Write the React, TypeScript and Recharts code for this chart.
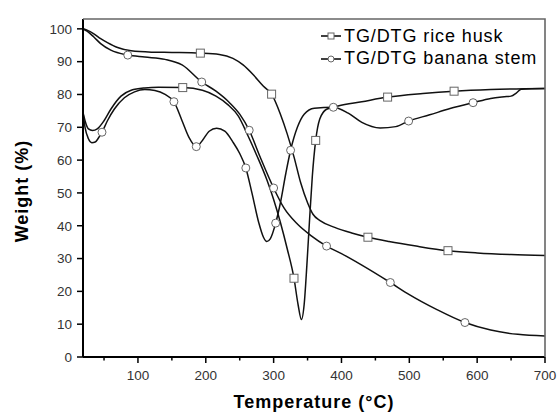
import React from 'react';
import {
  LineChart, Line, XAxis, YAxis, Label
} from 'recharts';

// TG rice husk
const rhTgX = [19, 25, 35, 45, 55, 70, 90, 120, 150, 192, 220, 240, 255, 270, 285, 297, 310, 320, 330, 340, 350, 358, 369, 390, 415, 439, 470, 510, 557, 600, 650, 700];
const rhTgY = [100, 99.6, 98.5, 97, 95.8, 94.3, 93.3, 92.9, 92.8, 92.6, 92.2, 91, 89, 86, 82.5, 80.1, 74, 68, 61, 53, 47, 43.5, 41.5, 39.5, 37.8, 36.5, 35.2, 33.8, 32.4, 31.7, 31.2, 30.9];
const rhTgMarks = [192, 297, 439, 557];

// DTG rice husk
const rhDtgX = [19, 22, 27, 33, 40, 50, 60, 75, 90, 110, 130, 166, 195, 215, 232, 248, 262, 275, 290, 300, 310, 320, 330, 336, 341, 345, 349, 353, 357, 362, 368, 378, 395, 430, 468, 520, 566, 620, 700];
const rhDtgY = [74.5, 72, 69.5, 69, 69.5, 72, 75.5, 79.5, 81.3, 82, 82.2, 82.1, 81.3, 79.5, 77, 73.4, 67.5, 61.5, 54, 48, 41, 33, 24, 16, 11.4, 16, 28, 42, 55, 66, 72.5, 75.5, 76.5, 77.8, 79.2, 80.3, 81, 81.5, 81.8];
const rhDtgMarks = [166, 330, 362, 468, 566];

// TG banana stem
const bTgX = [19, 25, 35, 45, 60, 85, 110, 140, 165, 194, 215, 235, 250, 264, 280, 300, 315, 335, 355, 378, 400, 430, 472, 500, 540, 582, 620, 660, 700];
const bTgY = [100, 99.3, 97.5, 95.5, 93.5, 92, 91.4, 90.7, 89, 83.8, 81, 77.5, 74, 69.1, 61, 51.5, 45.5, 40.5, 37, 33.8, 31.5, 28, 22.7, 19, 14.5, 10.5, 8.2, 6.9, 6.4];
const bTgMarks = [85, 194, 264, 300, 378, 472, 582];

// DTG banana stem
const bDtgX = [19, 22, 27, 32, 37, 42, 47, 55, 65, 80, 95, 110, 125, 140, 153, 165, 175, 186, 195, 205, 216, 228, 240, 250, 259, 268, 278, 285, 290, 295, 303, 310, 318, 325, 335, 345, 360, 388, 410, 430, 457, 480, 499, 530, 560, 594, 620, 640, 650, 658, 665, 700];
const bDtgY = [74.5, 70, 66.5, 65.3, 65.5, 66.8, 68.5, 72, 75.5, 79, 80.8, 81.5, 81.2, 80, 77.8, 72, 67, 64.1, 66, 68.8, 69.7, 68.8, 65.5, 62, 57.6, 50, 41, 36.5, 35.2, 36, 40.8, 47, 56, 63, 70, 74, 75.8, 76.1, 74.3, 71.5, 69.8, 70.2, 71.9, 73.8, 75.7, 77.5, 78.8, 79.3, 79.5, 80.5, 81.6, 81.8];
const bDtgMarks = [47, 153, 186, 259, 303, 325, 388, 499, 594];

const xTicks = [50, 100, 150, 200, 250, 300, 350, 400, 450, 500, 550, 600, 650, 700];
const yTicks = [0, 5, 10, 15, 20, 25, 30, 35, 40, 45, 50, 55, 60, 65, 70, 75, 80, 85, 90, 95, 100];

const toRows = (xs: number[], ys: number[]) => xs.map((x, i) => ({ x, y: ys[i] }));

const FONT = 'Arial, "Liberation Sans", sans-serif';

// chart box
const W = 559;
const H = 412;
const M = { top: 19, right: 14, bottom: 0, left: 0 };
const Y_W = 83;
const X_H = 55;

const makeDot = (marks: number[], shape: 'square' | 'circle') => (props: any) => {
  const { cx, cy, payload, index } = props;
  if (!marks.includes(payload.x)) return <g key={index} />;
  return shape === 'square'
    ? <rect key={index} x={cx - 4} y={cy - 4} width={8} height={8} fill="#fff" stroke="#666" strokeWidth={1} />
    : <circle key={index} cx={cx} cy={cy} r={4} fill="#fff" stroke="#666" strokeWidth={1} />;
};

const XTick = (props: any) => {
  const { x, y, payload } = props;
  const axisY = y - 13;
  const major = payload.value % 100 === 0;
  return (
    <g>
      <line x1={x} x2={x} y1={axisY} y2={axisY + (major ? 6 : 3.5)} stroke="#000" strokeWidth={1.5} />
      {major && (
        <text x={x} y={y} dy="0.71em" textAnchor="middle" fontSize={13.5} fontFamily={FONT} fill="#333">
          {payload.value}
        </text>
      )}
    </g>
  );
};

const YTick = (props: any) => {
  const { x, y, payload } = props;
  const axisX = x + 11;
  const major = payload.value % 10 === 0;
  return (
    <g>
      <line x1={axisX} x2={axisX - (major ? 6 : 3.5)} y1={y} y2={y} stroke="#000" strokeWidth={1.5} />
      {major && (
        <text x={x} y={y} dy="0.355em" textAnchor="end" fontSize={13.5} fontFamily={FONT} fill="#333">
          {payload.value}
        </text>
      )}
    </g>
  );
};

const LegendBox = () => {
  const items = [
    { name: 'TG/DTG rice husk', shape: 'square' },
    { name: 'TG/DTG banana stem', shape: 'circle' },
  ];
  return (
    <div style={{ position: 'absolute', left: 321, top: 25, zIndex: 2, fontFamily: FONT, fontSize: 18, letterSpacing: 0.9, color: '#000' }}>
      {items.map((it) => (
        <div key={it.name} style={{ display: 'flex', alignItems: 'center', height: 22.6 }}>
          <svg width={22} height={12} style={{ marginRight: 1 }}>
            <line x1={0} x2={20} y1={6} y2={6} stroke="#000" strokeWidth={1.5} />
            {it.shape === 'square' ? (
              <rect x={7} y={3} width={6} height={6} fill="#fff" stroke="#666" />
            ) : (
              <circle cx={10} cy={6} r={3} fill="#fff" stroke="#666" />
            )}
          </svg>
          <span style={{ whiteSpace: 'nowrap' }}>{it.name}</span>
        </div>
      ))}
    </div>
  );
};

const App: React.FC = () => {
  return (
    <div style={{ position: 'absolute', left: 0, top: 0, width: W, height: H, background: '#fff' }}>
      <LineChart width={W} height={H} margin={M}>
        <XAxis
          type="number"
          dataKey="x"
          domain={[19, 700]}
          ticks={xTicks}
          allowDataOverflow
          height={X_H}
          tickSize={6}
          tickMargin={7}
          tickLine={false}
          tick={<XTick />}
          axisLine={{ stroke: '#000', strokeWidth: 2 }}
        >
          <Label
            content={(p: any) => {
              const vb = p.viewBox;
              return (
                <text x={vb.x + vb.width / 2} y={408} textAnchor="middle" fontSize={18} letterSpacing={1} fontWeight="bold" fontFamily={FONT} fill="#000">
                  Temperature (°C)
                </text>
              );
            }}
          />
        </XAxis>
        <YAxis
          type="number"
          domain={[0, 103]}
          ticks={yTicks}
          allowDataOverflow
          width={Y_W}
          tickSize={6}
          tickMargin={5}
          tickLine={false}
          tick={<YTick />}
          axisLine={{ stroke: '#000', strokeWidth: 2 }}
        >
          <Label
            content={(p: any) => {
              const vb = p.viewBox;
              const cx = 28;
              const cy = vb.y + vb.height / 2 + 3;
              const left = vb.x + vb.width;
              const right = W - M.right;
              return (
                <g>
                  {/* top and right frame of the plot box */}
                  <path
                    d={`M ${left} ${vb.y} H ${right} V ${vb.y + vb.height}`}
                    fill="none"
                    stroke="#666"
                    strokeWidth={1.6}
                  />
                  <text x={cx} y={cy} transform={`rotate(-90, ${cx}, ${cy})`} textAnchor="middle" fontSize={18} letterSpacing={1} fontWeight="bold" fontFamily={FONT} fill="#000">
                    Weight (%)
                  </text>
                </g>
              );
            }}
          />
        </YAxis>
        <Line data={toRows(rhTgX, rhTgY)} dataKey="y" type="monotone" stroke="#111" strokeWidth={1.5} dot={makeDot(rhTgMarks, 'square')} activeDot={false} isAnimationActive={false} />
        <Line data={toRows(rhDtgX, rhDtgY)} dataKey="y" type="monotone" stroke="#111" strokeWidth={1.5} dot={makeDot(rhDtgMarks, 'square')} activeDot={false} isAnimationActive={false} />
        <Line data={toRows(bTgX, bTgY)} dataKey="y" type="monotone" stroke="#111" strokeWidth={1.5} dot={makeDot(bTgMarks, 'circle')} activeDot={false} isAnimationActive={false} />
        <Line data={toRows(bDtgX, bDtgY)} dataKey="y" type="monotone" stroke="#111" strokeWidth={1.5} dot={makeDot(bDtgMarks, 'circle')} activeDot={false} isAnimationActive={false} />
      </LineChart>
      <LegendBox />
    </div>
  );
};

export default App;
